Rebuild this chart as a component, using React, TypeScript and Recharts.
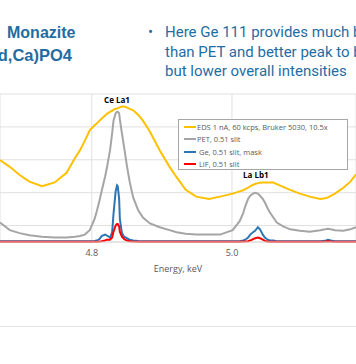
import React from 'react';
import {
  LineChart, Line, XAxis, YAxis, CartesianGrid, Legend, ReferenceDot,
} from 'recharts';

// energy (keV) and intensities
const energy = [
  4.669, 4.683, 4.697, 4.711, 4.729, 4.747, 4.764, 4.776, 4.783, 4.79, 4.797, 4.804, 4.807,
  4.811, 4.814, 4.819, 4.821, 4.826, 4.829, 4.831, 4.834, 4.836, 4.837, 4.839, 4.84, 4.843,
  4.846, 4.85, 4.854, 4.859, 4.866, 4.873, 4.883, 4.897, 4.911, 4.921, 4.934, 4.949, 4.967,
  4.983, 5.001, 5.011, 5.016, 5.019, 5.023, 5.026, 5.03, 5.033, 5.037, 5.04, 5.044, 5.047,
  5.051, 5.054, 5.059, 5.064, 5.073, 5.083, 5.097, 5.111, 5.126, 5.133, 5.137, 5.141, 5.147,
  5.159, 5.169, 5.177,
];
const eds = [
  4.98, 4.57, 4.07, 3.67, 3.39, 3.62, 4.21, 5.11, 5.57, 6.15, 6.79, 7.1, 7.2,
  7.38, 7.5, 7.69, 7.78, 7.92, 7.98, 8.05, 8.1, 8.12, 8.14, 8.17, 8.19, 8.24,
  8.24, 8.19, 8.1, 8.01, 7.74, 7.38, 6.7, 5.57, 4.57, 3.94, 3.17, 2.76, 2.62,
  2.76, 2.94, 3.08, 3.15, 3.21, 3.3, 3.39, 3.48, 3.53, 3.58, 3.6, 3.62, 3.62,
  3.62, 3.62, 3.62, 3.52, 3.35, 3.17, 2.94, 2.76, 2.62, 2.66, 2.71, 2.8, 2.94,
  3.3, 3.67, 4.12,
];
const pet = [
  1.18, 0.72, 0.54, 0.41, 0.32, 0.27, 0.27, 0.32, 0.36, 0.45, 0.72, 1.4, 1.86,
  2.53, 3.08, 3.98, 4.39, 5.57, 6.61, 7.38, 7.83, 7.92, 7.92, 7.83, 7.47, 6.61,
  5.79, 4.66, 3.67, 2.71, 1.95, 1.49, 1.13, 0.9, 0.72, 0.59, 0.5, 0.45, 0.45,
  0.45, 0.72, 1.27, 1.76, 2.17, 2.62, 2.81, 2.94, 2.99, 2.94, 2.81, 2.62, 2.4,
  2.04, 1.81, 1.49, 1.18, 0.95, 0.77, 0.68, 0.63, 0.72, 0.77, 0.81, 0.77, 0.72,
  0.68, 0.77, 0.9,
];
const ge = [
  0.05, 0.05, 0.05, 0.05, 0.05, 0.05, 0.05, 0.05, 0.05, 0.05, 0.05, 0.06, 0.09,
  0.18, 0.36, 0.45, 0.41, 0.27, 0.59, 1.72, 3.08, 3.44, 3.39, 2.62, 1.4, 0.54,
  0.32, 0.23, 0.14, 0.09, 0.06, 0.05, 0.05, 0.05, 0.05, 0.05, 0.05, 0.05, 0.05,
  0.05, 0.05, 0.05, 0.09, 0.14, 0.27, 0.45, 0.59, 0.68, 0.9, 0.77, 0.45, 0.27,
  0.14, 0.09, 0.09, 0.05, 0.05, 0.05, 0.05, 0.05, 0.05, 0.07, 0.14, 0.09, 0.05,
  0.05, 0.05, 0.05,
];
const lif = [
  0.02, 0.02, 0.02, 0.02, 0.02, 0.02, 0.02, 0.02, 0.02, 0.02, 0.02, 0.02, 0.02,
  0.03, 0.05, 0.09, 0.14, 0.14, 0.27, 0.63, 1.0, 1.09, 1.09, 0.95, 0.63, 0.32,
  0.18, 0.09, 0.05, 0.03, 0.02, 0.02, 0.02, 0.02, 0.02, 0.02, 0.02, 0.02, 0.02,
  0.02, 0.02, 0.02, 0.03, 0.03, 0.05, 0.09, 0.18, 0.23, 0.27, 0.23, 0.14, 0.07,
  0.03, 0.02, 0.02, 0.02, 0.02, 0.02, 0.02, 0.02, 0.02, 0.03, 0.05, 0.03, 0.02,
  0.02, 0.02, 0.02,
];

const xTicks = [4.8, 5.0];
const yTicks = [0, 1, 2, 3, 4, 5, 6, 7, 8, 9];

const series = [
  { key: 'eds', name: 'EDS 1 nA, 60 kcps, Bruker 5030, 10.5x', color: '#FFC000' },
  { key: 'pet', name: 'PET, 0.51 slit', color: '#A5A5A5' },
  { key: 'ge', name: ' Ge, 0.51 slit, mask', color: '#2E75B6' },
  { key: 'lif', name: ' LiF, 0.51 slit', color: '#FF0000' },
];

const data = energy.map((e, i) => ({ e, eds: eds[i], pet: pet[i], ge: ge[i], lif: lif[i] }));

const blue = '#1F6DA3';

const LegendBox = () => (
  <div style={{
    width: 170, height: 51, boxSizing: 'border-box', border: '1px solid #A6A6A6',
    background: '#fff', padding: '1px 0', fontFamily: 'Open Sans', fontSize: 7.5, color: '#595959',
  }}>
    {series.map((s) => (
      <div key={s.key} style={{ display: 'flex', alignItems: 'center', height: 12.3 }}>
        <div style={{ width: 12, height: 2, background: s.color, marginLeft: 5 }} />
        <span style={{ whiteSpace: 'pre', marginLeft: 1 }}>{s.name}</span>
      </div>
    ))}
  </div>
);

export default function App() {
  return (
    <div style={{ position: 'fixed', left: 0, top: 0, width: 356, height: 364, overflow: 'hidden', background: '#fff' }}>
      {/* slide title, cut at the left edge */}
      <div style={{ position: 'absolute', left: 7, top: 22, fontFamily: 'Liberation Sans', fontWeight: 700, fontSize: 16, lineHeight: '22px', color: blue }}>
        Monazite
      </div>
      <div style={{ position: 'absolute', right: 284, top: 44, whiteSpace: 'nowrap', fontFamily: 'Liberation Sans', fontWeight: 700, fontSize: 16.5, lineHeight: '22px', color: blue }}>
        (Ce,La,Nd,Ca)PO4
      </div>
      <div style={{ position: 'absolute', left: 148, top: 23, whiteSpace: 'nowrap', fontFamily: 'Roboto', fontSize: 15, lineHeight: '19.5px', color: blue }}>
        <div><span style={{ display: 'inline-block', width: 17 }}>•</span>Here Ge 111 provides much better resolution</div>
        <div style={{ paddingLeft: 17 }}>than PET and better peak to background,</div>
        <div style={{ paddingLeft: 17 }}>but lower overall intensities</div>
      </div>
      <div style={{ position: 'absolute', left: 0, top: 326, width: 356, height: 1, background: '#E3E3E3' }} />

      <div style={{ position: 'absolute', left: 0, top: 0 }}>
        <LineChart width={356} height={364} data={data} margin={{ top: 94, right: 0, left: 0, bottom: 41 }}>
          <CartesianGrid stroke="#E0E0E0" strokeWidth={1} />
          <XAxis
            dataKey="e" type="number" domain={[4.669, 5.177]} ticks={xTicks} allowDataOverflow
            tickFormatter={(v: number) => v.toFixed(1)} height={30}
            tick={{ fontSize: 9, fill: '#595959', fontFamily: 'Open Sans' }}
            tickLine={false} axisLine={{ stroke: '#D9D9D9' }}
            label={{ value: 'Energy, keV', position: 'insideBottom', offset: 0, fontSize: 9, fill: '#595959', fontFamily: 'Open Sans' }}
          />
          <YAxis hide domain={[0, 9]} ticks={yTicks} />
          {series.map((s) => (
            <Line
              key={s.key} dataKey={s.key} name={s.name} stroke={s.color} strokeWidth={2}
              dot={false} type="linear" isAnimationActive={false}
            />
          ))}
          <ReferenceDot x={4.836} y={8.6} r={0} stroke="none" fill="none"
            label={{ value: 'Ce La1', position: 'center', fontSize: 8, fontWeight: 700, fill: '#000', fontFamily: 'Open Sans' }} />
          <ReferenceDot x={5.034} y={4.07} r={0} stroke="none" fill="none"
            label={{ value: 'La Lb1', position: 'center', fontSize: 8, fontWeight: 700, fill: '#000', fontFamily: 'Open Sans' }} />
          <Legend content={LegendBox} wrapperStyle={{ position: 'absolute', left: 178, top: 119, width: 170, height: 51 }} />
        </LineChart>
      </div>
    </div>
  );
}
